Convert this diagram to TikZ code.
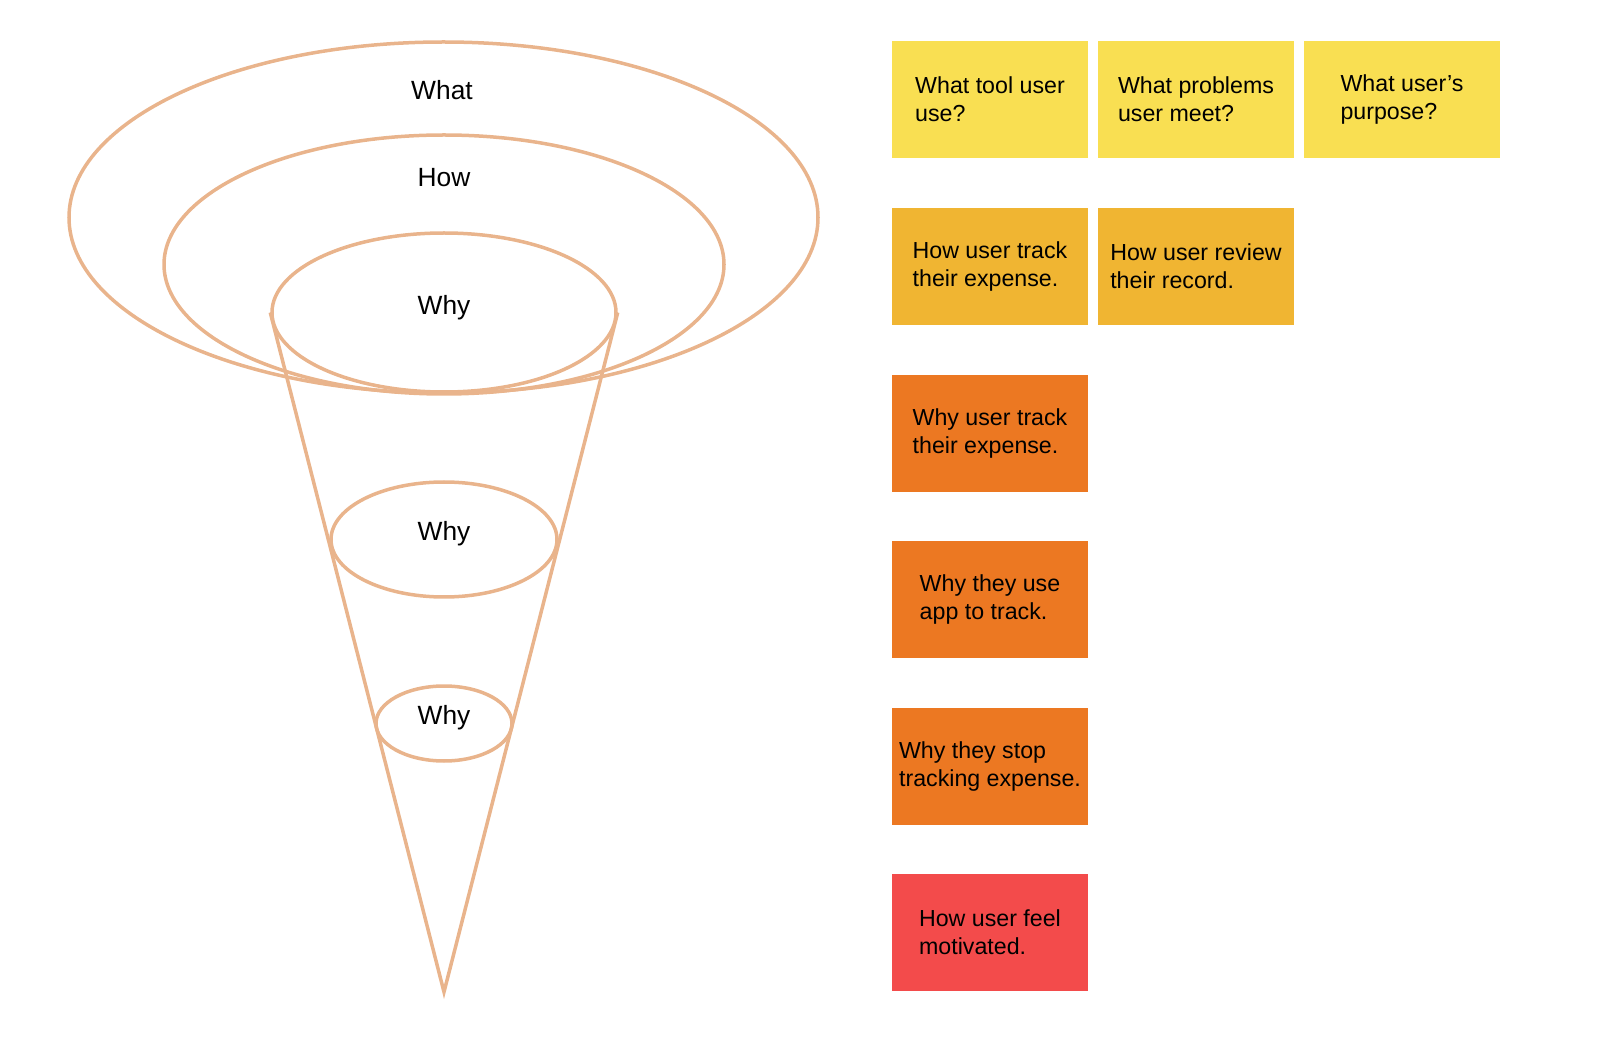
\documentclass[tikz,border=0pt]{standalone}
\usepackage{fontspec}
\setmainfont{Liberation Sans}
\usepackage{xcolor}
\usepackage{tikz}
\usetikzlibrary{shapes.geometric, positioning, calc}

\definecolor{ringline}{HTML}{E9B48C}
\definecolor{noteyellow}{HTML}{F9DF52}
\definecolor{notegold}{HTML}{F0B532}
\definecolor{noteorange}{HTML}{EC7822}
\definecolor{notered}{HTML}{F34B4B}

\begin{document}
\begin{tikzpicture}[
    ring/.style={draw=ringline, ellipse, line width=0.07cm, inner sep=0pt},
    ringlabel/.style={font=\fontsize{15}{18}\selectfont, text=black},
    note/.style={minimum width=3.92cm, minimum height=2.34cm, inner sep=0pt, align=left, font=\fontsize{13.2}{15.9}\selectfont},
    whatnote/.style={note, fill=noteyellow},
    hownote/.style={note, fill=notegold},
    whynote/.style={note, fill=noteorange},
    feelnote/.style={note, fill=notered}
]
\useasboundingbox (0,0) rectangle (32,-21.08);

% === FUNNEL ===
\node[ring, minimum width=14.98cm, minimum height=7.02cm] (ringWhat) at (8.87,-4.35) {};
\node[ring, minimum width=11.2cm, minimum height=5.18cm] (ringHow) at (8.88,-5.29) {};
\node[ring, minimum width=6.88cm, minimum height=3.18cm] (ringWhyA) at (8.88,-6.25) {};
\node[ring, minimum width=4.52cm, minimum height=2.3cm] (ringWhyB) at (8.88,-10.79) {};
\node[ring, minimum width=2.72cm, minimum height=1.5cm] (ringWhyC) at (8.88,-14.47) {};
\coordinate (tip) at (8.88,-19.84);
\draw[draw=ringline, line width=0.07cm] (ringWhyA.west) -- (tip) -- (ringWhyA.east);

\node[ringlabel] (lblWhat) at (8.84,-1.80) {What};
\node[ringlabel] (lblHow) at (8.88,-3.56) {How};
\node[ringlabel] (lblWhyA) at (8.88,-6.16) {Why};
\node[ringlabel] (lblWhyB) at (8.88,-10.68) {Why};
\node[ringlabel] (lblWhyC) at (8.88,-14.36) {Why};

% === STICKY NOTES ===
\node[whatnote] (whatA) at (19.80,-1.99) {What tool user\\use?};
\node[whatnote] (whatB) at (23.92,-1.99) {What problems\\user meet?};
\node[whatnote] (whatC) at (28.04,-1.99) {What user’s\\purpose?};

\node[hownote] (howA) at (19.80,-5.33) {How user track\\their expense.};
\node[hownote] (howB) at (23.92,-5.33) {How user review\\their record.};

\node[whynote] (whyA) at (19.80,-8.67) {Why user track\\their expense.};
\node[whynote] (whyB) at (19.80,-11.99) {Why they use\\app to track.};
\node[whynote] (whyC) at (19.80,-15.33) {Why they stop\\tracking expense.};

\node[feelnote] (feel) at (19.80,-18.65) {How user feel\\motivated.};

\end{tikzpicture}
\end{document}
